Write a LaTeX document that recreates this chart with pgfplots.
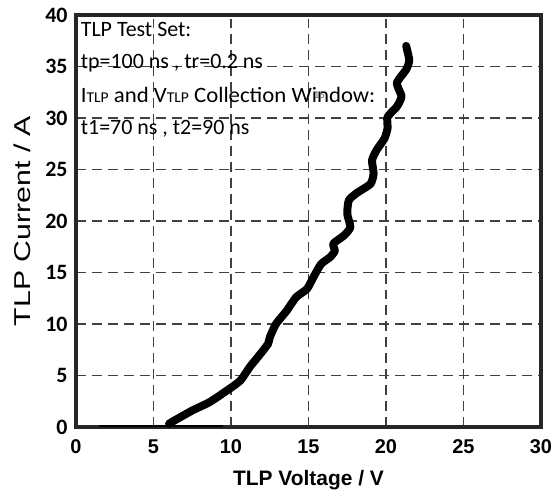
\documentclass[border=0pt]{standalone}
\usepackage{pgfplots}
\pgfplotsset{compat=1.18}
\usepackage{fontspec}
\setmainfont{Carlito}
\newfontfamily\arial{Liberation Sans}
\begin{document}
\begin{tikzpicture}
\begin{axis}[
    width=465bp, height=412bp,
    scale only axis,
    xmin=0, xmax=30, ymin=0, ymax=40,
    xtick={0,5,...,30}, ytick={0,5,...,40},
    grid=major,
    major grid style={black!75, line width=1.1pt, dash pattern=on 10pt off 6pt},
    major tick length=0pt,
    axis line style={black!85, line width=4pt},
    /pgf/number format/assume math mode=true,
    xticklabel style={font=\arial\bfseries\fontsize{20}{20}\selectfont, yshift=-9pt},
    yticklabel style={font=\bfseries\fontsize{22}{22}\selectfont, xshift=-5pt},
    xlabel={TLP Voltage / V},
    ylabel={TLP Current / A},
    xlabel style={font=\arial\bfseries\fontsize{21}{21}\selectfont, yshift=-10pt},
    ylabel style={font=\arial\fontsize{23}{23}\selectfont, xscale=1.32, yshift=8pt},
    clip=false,
]
% flat part at the bottom
\addplot[black, line width=2pt] coordinates {(1.5,0.12) (9.5,0.12)};
% TLP I-V curve
\addplot[black, line width=8pt, line join=round, line cap=round, smooth, tension=0.35] coordinates {
(6.0,0.3) (6.2,0.5) (7.5,1.6) (8.6,2.4) (9.7,3.5) (10.6,4.5) (11.2,5.8)
(11.9,7.1) (12.4,8.1) (12.5,8.7) (12.9,10.0) (13.6,11.3) (14.2,12.6)
(14.9,13.4) (15.3,14.5) (15.8,15.8) (16.4,16.5) (16.7,17.1) (16.6,17.8)
(17.3,18.6) (17.7,19.4) (17.5,20.7) (17.6,22.0) (18.1,22.7) (19.0,23.6)
(19.2,24.6) (19.1,25.9) (19.4,26.9) (19.9,28.0) (20.1,29.0) (20.1,30.1)
(20.7,31.1) (21.0,32.1) (20.7,33.4) (21.3,34.7) (21.5,35.6) (21.3,37.0)
};
\node[anchor=west, inner sep=0pt, font=\fontsize{22}{22}\selectfont] at (axis cs:0.3,38.6) {TLP Test Set:};
\node[anchor=west, inner sep=0pt, font=\fontsize{22}{22}\selectfont] at (axis cs:0.3,35.3) {tp=100 ns , tr=0.2 ns};
\node[anchor=west, inner sep=0pt, font=\fontsize{22}{22}\selectfont, xscale=1.04] at (axis cs:0.3,32.2) {I{\fontsize{15}{15}\selectfont TLP} and V{\fontsize{15}{15}\selectfont TLP} Collection Window:};
\node[anchor=west, inner sep=0pt, font=\fontsize{22}{22}\selectfont] at (axis cs:0.3,29.0) {t1=70 ns , t2=90 ns};
\node[inner sep=0pt, black!60, font=\fontsize{11}{11}\selectfont] at (axis cs:15.7,32.2) {15};
\end{axis}
\pgfresetboundingbox
\path (current axis.south west) ++(-76bp,-77bp) rectangle ++(554bp,504bp);
\end{tikzpicture}
\end{document}
